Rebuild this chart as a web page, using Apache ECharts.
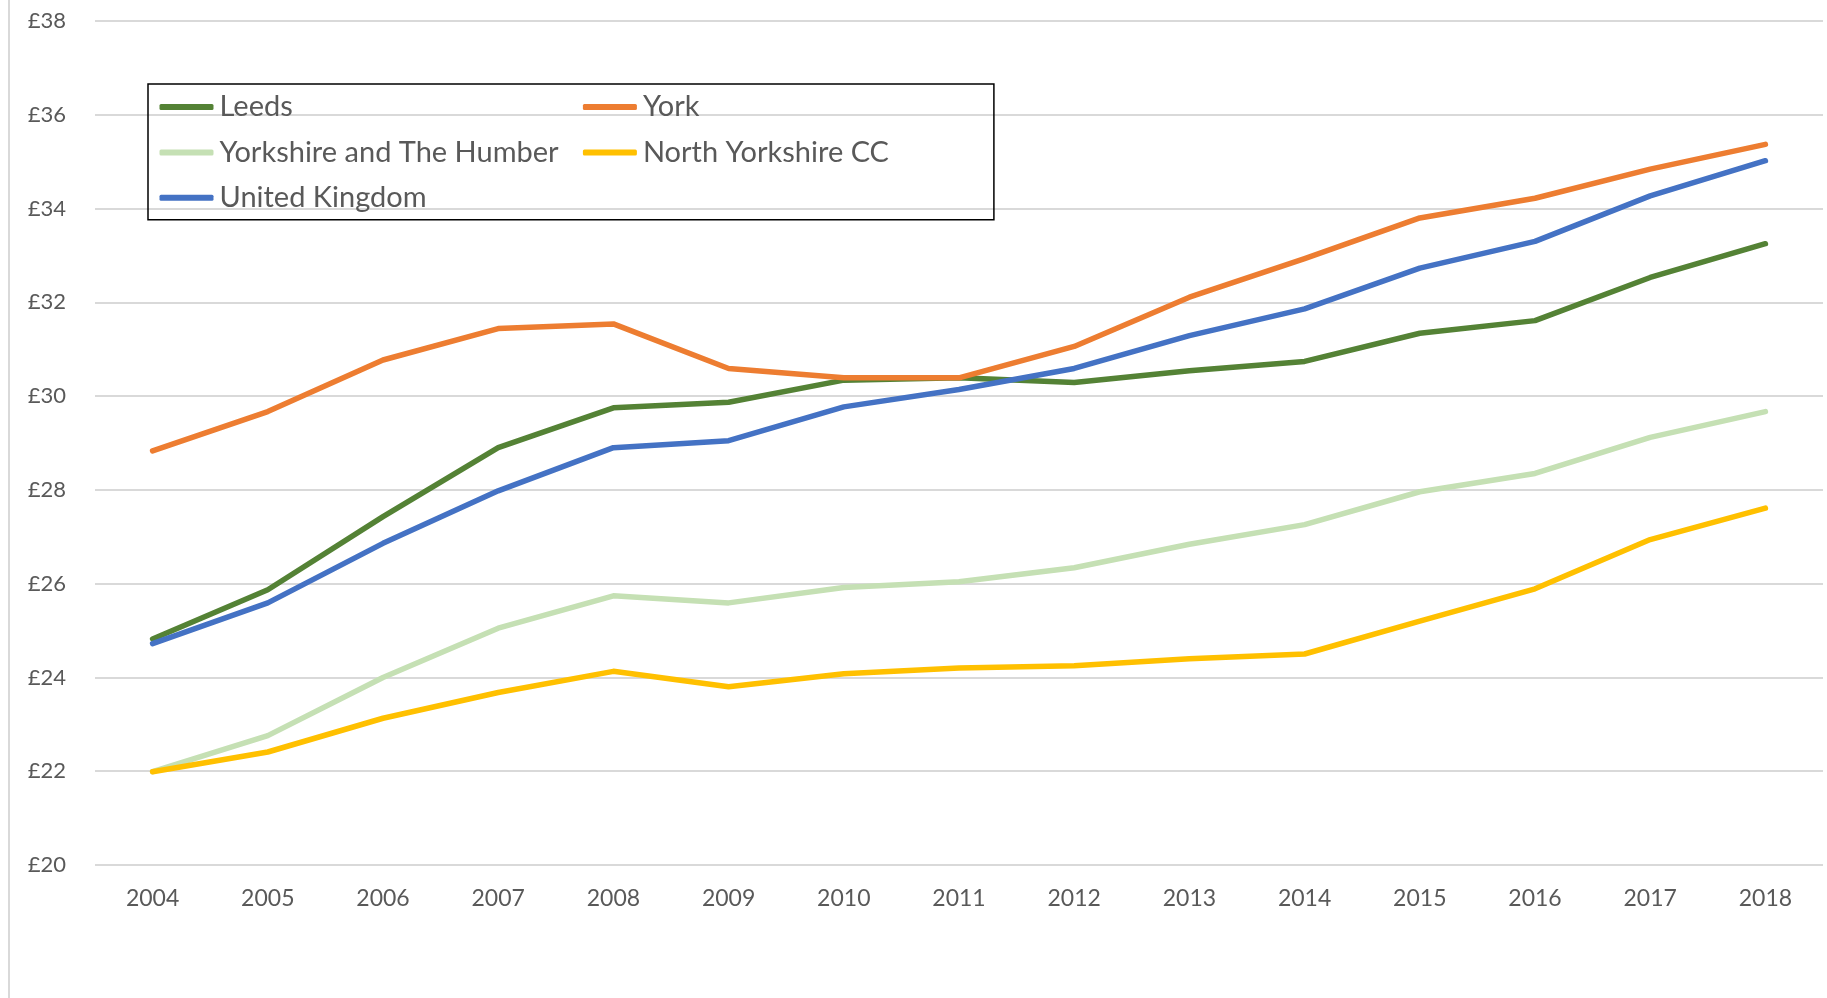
<!DOCTYPE html>
<html>
<head>
<meta charset="utf-8">
<script src="https://cdn.jsdelivr.net/npm/echarts@6/dist/echarts.min.js"></script>
<style>
html,body{margin:0;padding:0;background:#fff;}
#chart{width:1827px;height:998px;}
</style>
</head>
<body>
<div id="chart"></div>
<script>
const years = ['2004','2005','2006','2007','2008','2009','2010','2011','2012','2013','2014','2015','2016','2017','2018'];
const leeds = [24.82,25.87,27.43,28.90,29.75,29.87,30.34,30.39,30.29,30.54,30.74,31.34,31.61,32.53,33.25];
const york = [28.83,29.67,30.77,31.44,31.54,30.59,30.39,30.39,31.06,32.11,32.93,33.80,34.22,34.84,35.37];
const yorkshireHumber = [21.99,22.76,24.00,25.05,25.74,25.59,25.92,26.04,26.34,26.84,27.26,27.96,28.35,29.12,29.67];
const northYorkshire = [21.99,22.41,23.13,23.68,24.13,23.80,24.08,24.20,24.25,24.40,24.50,25.20,25.89,26.94,27.61];
const unitedKingdom = [24.72,25.59,26.86,27.98,28.90,29.05,29.77,30.14,30.59,31.29,31.86,32.73,33.30,34.27,35.02];
const seriesNames = ['Leeds','York','Yorkshire and The Humber','North Yorkshire CC','United Kingdom'];
const seriesData = [leeds, york, yorkshireHumber, northYorkshire, unitedKingdom];
const colors = ['#548235','#ED7D31','#C5E0B4','#FFC000','#4472C4'];

const chart = echarts.init(document.getElementById('chart'));
const fontFamily = 'Lato, "Noto Sans", sans-serif';
chart.setOption({
  animation: false,
  color: colors,
  grid: {left: 95, right: 4, top: 21, bottom: 133},
  graphic: [{
    type: 'line', shape: {x1: 9, y1: 0, x2: 9, y2: 998},
    style: {stroke: '#d9d9d9', lineWidth: 2}
  }],
  legend: {
    left: 148, top: 84,
    width: 840,
    padding: [8.5, 4, 7.5, 11.5],
    borderColor: '#000', borderWidth: 1.5,
    itemWidth: 54, itemHeight: 6, itemGap: 16.4,
    icon: 'roundRect',
    textStyle: {fontFamily, fontSize: 29, color: '#595959', width: 347, lineHeight: 29, padding: [0, 0, 0, 1]},
    data: seriesNames
  },
  xAxis: {
    type: 'category', data: years, boundaryGap: true,
    axisLine: {show: false}, axisTick: {show: false},
    axisLabel: {fontFamily, fontSize: 23, color: '#595959', margin: 22}
  },
  yAxis: {
    type: 'value', min: 20, max: 38, interval: 2,
    axisLine: {show: false}, axisTick: {show: false},
    splitLine: {lineStyle: {color: '#d9d9d9', width: 2}},
    axisLabel: {fontFamily, fontSize: 22, color: '#595959', margin: 29, formatter: v => '£' + v}
  },
  series: seriesNames.map((name, i) => ({
    name, type: 'line', data: seriesData[i],
    symbol: 'none', smooth: false,
    lineStyle: {width: 5.5, color: colors[i], cap: 'round', join: 'round'},
    itemStyle: {color: colors[i]}
  }))
});
</script>
</body>
</html>
